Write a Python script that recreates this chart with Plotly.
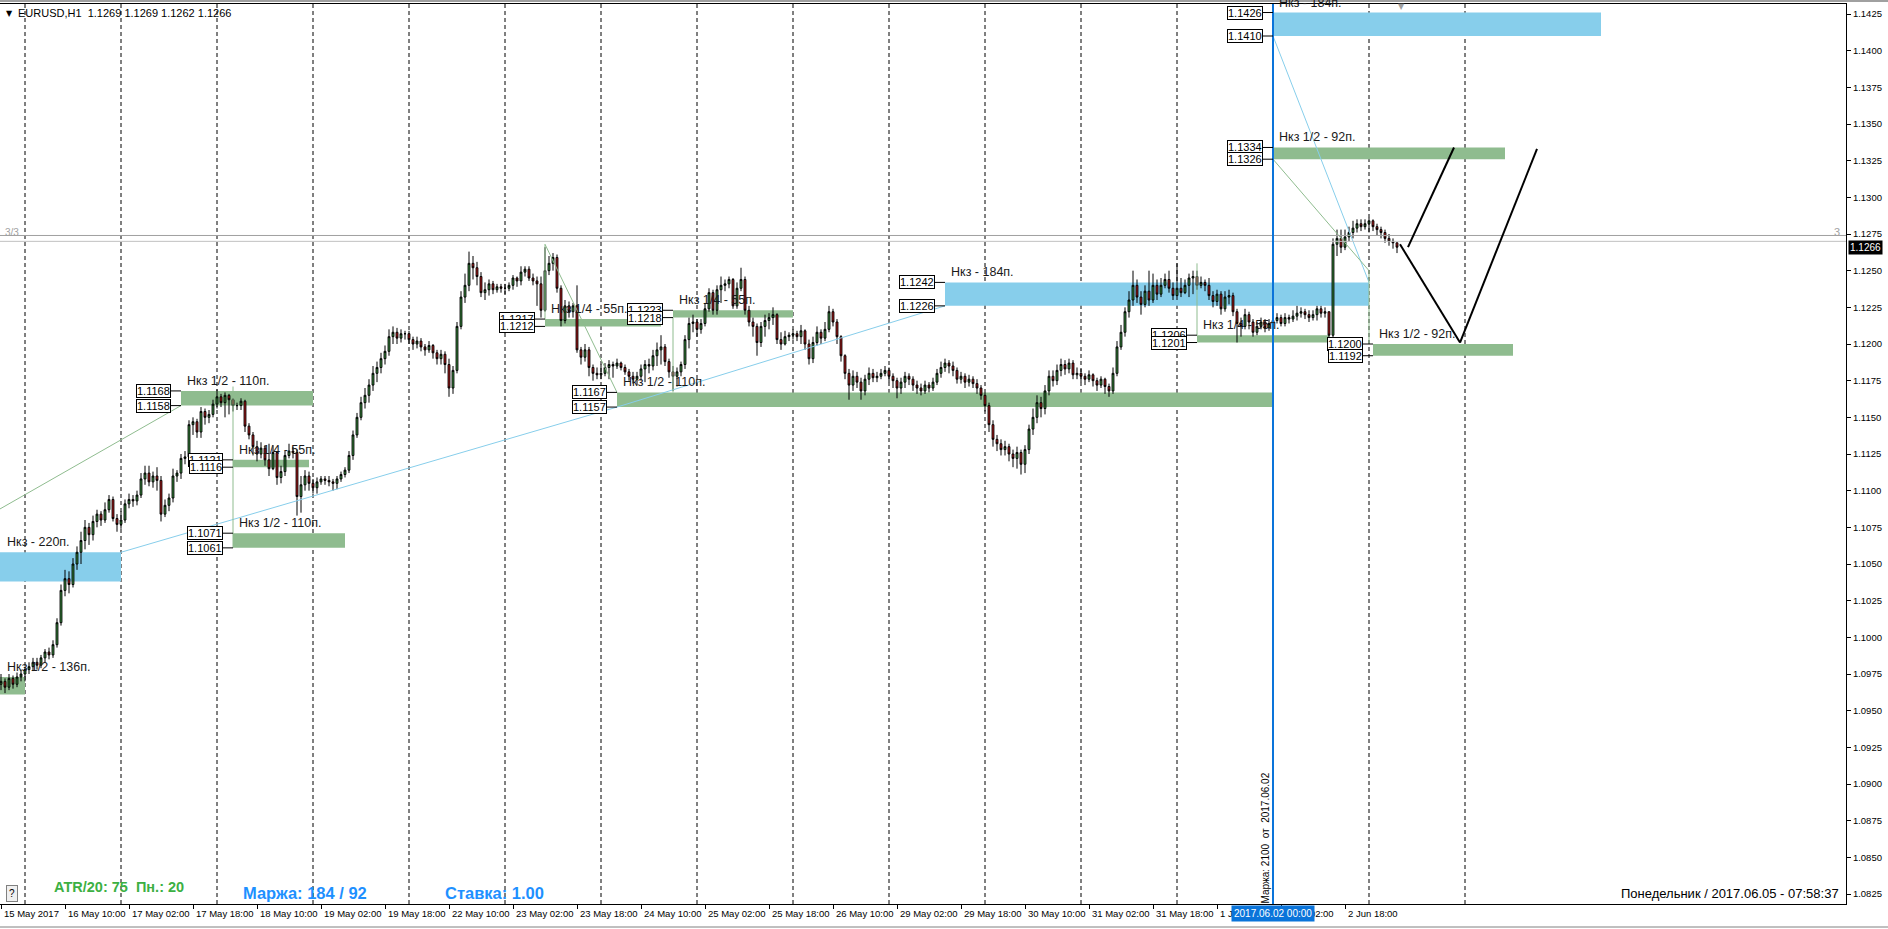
import plotly.graph_objects as go

# ---------------- DATA (EURUSD H1) ----------------
first_open = 1.0968
closes = [
    1.0970, 1.0966, 1.0972, 1.0968, 1.0973, 1.0975,
    1.0978, 1.0980, 1.0983, 1.0981, 1.0986, 1.0990, 1.0988, 1.0995, 1.1010, 1.1032, 1.1040, 1.1036, 1.1050, 1.1058, 1.1066, 1.1075, 1.1070, 1.1079, 1.1084, 1.1080, 1.1087, 1.1094, 1.1081, 1.1077,
    1.1080, 1.1091, 1.1094, 1.1093, 1.1097, 1.1108, 1.1112, 1.1106, 1.1110, 1.1107, 1.1084, 1.1090, 1.1095, 1.1110, 1.1112, 1.1122, 1.1123, 1.1145, 1.1147, 1.1140, 1.1154, 1.1150, 1.1152, 1.1159,
    1.1164, 1.1160, 1.1165, 1.1162, 1.1158, 1.1158, 1.1161, 1.1144, 1.1138, 1.1130, 1.1125, 1.1129, 1.1121, 1.1115, 1.1126, 1.1109, 1.1113, 1.1124, 1.1127, 1.1126, 1.1096, 1.1104, 1.1110, 1.1105,
    1.1102, 1.1106, 1.1108, 1.1107, 1.1106, 1.1105, 1.1108, 1.1111, 1.1114, 1.1124, 1.1138, 1.1150, 1.1160, 1.1165, 1.1172, 1.1180, 1.1184, 1.1190, 1.1195, 1.1205, 1.1208, 1.1204, 1.1207, 1.1207,
    1.1203, 1.1200, 1.1202, 1.1198, 1.1196, 1.1199, 1.1194, 1.1190, 1.1193, 1.1186, 1.1170, 1.1182, 1.1212, 1.1232, 1.1240, 1.1255, 1.1252, 1.1246, 1.1235, 1.1237, 1.1241, 1.1237, 1.1239, 1.1238,
    1.1238, 1.1240, 1.1245, 1.1243, 1.1249, 1.1251, 1.1245, 1.1243, 1.1241, 1.1223, 1.1250, 1.1255, 1.1259, 1.1238, 1.1216, 1.1226, 1.1222, 1.1226, 1.1196, 1.1191, 1.1196, 1.1184, 1.1180, 1.1179,
    1.1180, 1.1184, 1.1186, 1.1185, 1.1187, 1.1184, 1.1181, 1.1178, 1.1176, 1.1178, 1.1183, 1.1186, 1.1185, 1.1192, 1.1196, 1.1198, 1.1188, 1.1181, 1.1178, 1.1181, 1.1186, 1.1203, 1.1214, 1.1215,
    1.1210, 1.1214, 1.1224, 1.1235, 1.1223, 1.1237, 1.1240, 1.1241, 1.1244, 1.1226, 1.1238, 1.1244, 1.1223, 1.1215, 1.1212, 1.1201, 1.1212, 1.1216, 1.1218, 1.1220, 1.1203, 1.1200, 1.1205, 1.1206,
    1.1207, 1.1205, 1.1209, 1.1200, 1.1190, 1.1201, 1.1208, 1.1204, 1.1210, 1.1222, 1.1215, 1.1205, 1.1192, 1.1180, 1.1172, 1.1178, 1.1174, 1.1168, 1.1176, 1.1180, 1.1177, 1.1178, 1.1180, 1.1182,
    1.1178, 1.1175, 1.1170, 1.1174, 1.1178, 1.1176, 1.1172, 1.1170, 1.1168, 1.1172, 1.1170, 1.1174, 1.1180, 1.1184, 1.1187, 1.1185, 1.1182, 1.1176, 1.1178, 1.1174, 1.1176, 1.1173, 1.1170, 1.1165,
    1.1158, 1.1145, 1.1135, 1.1132, 1.1128, 1.1130, 1.1125, 1.1122, 1.1126, 1.1118, 1.1128, 1.1142, 1.1150, 1.1160, 1.1156, 1.1168, 1.1178, 1.1175, 1.1182, 1.1186, 1.1183, 1.1187, 1.1179, 1.1180,
    1.1178, 1.1176, 1.1179, 1.1175, 1.1172, 1.1176, 1.1171, 1.1168, 1.1180, 1.1198, 1.1208, 1.1222, 1.1230, 1.1240, 1.1232, 1.1227, 1.1236, 1.1230, 1.1240, 1.1234, 1.1240, 1.1244, 1.1238, 1.1233,
    1.1238, 1.1235, 1.1240, 1.1245, 1.1246, 1.1240, 1.1242, 1.1240, 1.1233, 1.1229, 1.1234, 1.1224, 1.1232, 1.1233, 1.1222, 1.1214, 1.1212, 1.1220, 1.1215, 1.1208, 1.1212, 1.1215, 1.1211, 1.1214,
    1.1216, 1.1218, 1.1214, 1.1218, 1.1217, 1.1219, 1.1221, 1.1222, 1.1220, 1.1218, 1.1220, 1.1224, 1.1221, 1.1222, 1.1206, 1.1268, 1.1272, 1.1266, 1.1273, 1.1276, 1.1279, 1.1282, 1.1280, 1.1282,
    1.1284, 1.1280, 1.1278, 1.1276, 1.1272, 1.1270, 1.1269, 1.1266,
]
highs = [
    1.0975, 1.0972, 1.0975, 1.0974, 1.0976, 1.0978,
    1.0980, 1.0983, 1.0986, 1.0986, 1.0988, 1.0992, 1.0993, 1.0998, 1.1013, 1.1036, 1.1046, 1.1045, 1.1054, 1.1062, 1.1072, 1.1080, 1.1078, 1.1083, 1.1087, 1.1086, 1.1092, 1.1097, 1.1096, 1.1084,
    1.1086, 1.1094, 1.1098, 1.1097, 1.1100, 1.1112, 1.1117, 1.1117, 1.1113, 1.1116, 1.1110, 1.1094, 1.1098, 1.1115, 1.1114, 1.1125, 1.1127, 1.1148, 1.1150, 1.1149, 1.1157, 1.1156, 1.1155, 1.1162,
    1.1169, 1.1166, 1.1167, 1.1166, 1.1163, 1.1160, 1.1163, 1.1162, 1.1146, 1.1140, 1.1134, 1.1133, 1.1131, 1.1132, 1.1131, 1.1126, 1.1117, 1.1127, 1.1132, 1.1130, 1.1128, 1.1110, 1.1114, 1.1113,
    1.1108, 1.1109, 1.1110, 1.1110, 1.1110, 1.1108, 1.1110, 1.1113, 1.1116, 1.1127, 1.1141, 1.1153, 1.1164, 1.1170, 1.1176, 1.1185, 1.1188, 1.1194, 1.1199, 1.1210, 1.1212, 1.1211, 1.1210, 1.1209,
    1.1209, 1.1205, 1.1205, 1.1204, 1.1200, 1.1202, 1.1200, 1.1196, 1.1196, 1.1195, 1.1190, 1.1185, 1.1215, 1.1236, 1.1248, 1.1263, 1.1260, 1.1256, 1.1249, 1.1242, 1.1244, 1.1243, 1.1241, 1.1241,
    1.1241, 1.1242, 1.1247, 1.1246, 1.1253, 1.1253, 1.1253, 1.1248, 1.1246, 1.1246, 1.1266, 1.1260, 1.1262, 1.1261, 1.1240, 1.1230, 1.1229, 1.1228, 1.1240, 1.1198, 1.1200, 1.1198, 1.1186, 1.1184,
    1.1186, 1.1187, 1.1189, 1.1188, 1.1190, 1.1188, 1.1186, 1.1183, 1.1181, 1.1181, 1.1186, 1.1189, 1.1190, 1.1196, 1.1201, 1.1206, 1.1200, 1.1190, 1.1185, 1.1184, 1.1188, 1.1206, 1.1218, 1.1220,
    1.1217, 1.1217, 1.1228, 1.1238, 1.1237, 1.1240, 1.1246, 1.1244, 1.1246, 1.1245, 1.1242, 1.1252, 1.1246, 1.1226, 1.1218, 1.1214, 1.1215, 1.1220, 1.1221, 1.1225, 1.1221, 1.1208, 1.1209, 1.1208,
    1.1210, 1.1209, 1.1213, 1.1210, 1.1203, 1.1205, 1.1212, 1.1210, 1.1215, 1.1226, 1.1224, 1.1217, 1.1206, 1.1193, 1.1183, 1.1182, 1.1181, 1.1177, 1.1179, 1.1184, 1.1183, 1.1181, 1.1183, 1.1185,
    1.1184, 1.1180, 1.1177, 1.1177, 1.1181, 1.1180, 1.1178, 1.1175, 1.1173, 1.1175, 1.1174, 1.1177, 1.1183, 1.1188, 1.1190, 1.1189, 1.1188, 1.1184, 1.1181, 1.1180, 1.1179, 1.1178, 1.1176, 1.1172,
    1.1167, 1.1160, 1.1148, 1.1138, 1.1135, 1.1134, 1.1132, 1.1128, 1.1130, 1.1128, 1.1131, 1.1145, 1.1156, 1.1165, 1.1164, 1.1172, 1.1182, 1.1182, 1.1186, 1.1190, 1.1189, 1.1190, 1.1189, 1.1184,
    1.1183, 1.1180, 1.1182, 1.1180, 1.1177, 1.1178, 1.1177, 1.1173, 1.1184, 1.1202, 1.1213, 1.1225, 1.1236, 1.1250, 1.1244, 1.1236, 1.1240, 1.1250, 1.1248, 1.1244, 1.1245, 1.1248, 1.1250, 1.1242,
    1.1255, 1.1245, 1.1244, 1.1248, 1.1250, 1.1250, 1.1246, 1.1244, 1.1245, 1.1236, 1.1237, 1.1236, 1.1236, 1.1237, 1.1235, 1.1224, 1.1218, 1.1224, 1.1222, 1.1217, 1.1215, 1.1218, 1.1217, 1.1217,
    1.1219, 1.1221, 1.1220, 1.1221, 1.1220, 1.1223, 1.1226, 1.1225, 1.1224, 1.1223, 1.1223, 1.1226, 1.1226, 1.1225, 1.1222, 1.1272, 1.1278, 1.1278, 1.1278, 1.1280, 1.1284, 1.1285, 1.1285, 1.1285,
    1.1286, 1.1285, 1.1282, 1.1280, 1.1278, 1.1275, 1.1272, 1.1269,
]
lows = [
    1.0964, 1.0962, 1.0964, 1.0965, 1.0966, 1.0970,
    1.0970, 1.0975, 1.0977, 1.0978, 1.0979, 1.0983, 1.0985, 1.0986, 1.0993, 1.1008, 1.1028, 1.1030, 1.1034, 1.1046, 1.1050, 1.1060, 1.1063, 1.1066, 1.1075, 1.1076, 1.1078, 1.1085, 1.1079, 1.1072,
    1.1074, 1.1078, 1.1088, 1.1089, 1.1090, 1.1095, 1.1104, 1.1103, 1.1102, 1.1100, 1.1079, 1.1082, 1.1086, 1.1092, 1.1106, 1.1108, 1.1118, 1.1120, 1.1138, 1.1136, 1.1136, 1.1145, 1.1146, 1.1150,
    1.1156, 1.1157, 1.1150, 1.1152, 1.1154, 1.1155, 1.1155, 1.1140, 1.1135, 1.1124, 1.1120, 1.1122, 1.1117, 1.1110, 1.1114, 1.1104, 1.1105, 1.1110, 1.1122, 1.1122, 1.1083, 1.1085, 1.1100, 1.1100,
    1.1098, 1.1098, 1.1104, 1.1104, 1.1103, 1.1100, 1.1101, 1.1106, 1.1109, 1.1112, 1.1121, 1.1136, 1.1148, 1.1156, 1.1160, 1.1168, 1.1174, 1.1180, 1.1186, 1.1192, 1.1200, 1.1200, 1.1201, 1.1203,
    1.1200, 1.1196, 1.1197, 1.1195, 1.1192, 1.1194, 1.1190, 1.1186, 1.1186, 1.1180, 1.1164, 1.1166, 1.1180, 1.1210, 1.1228, 1.1236, 1.1244, 1.1240, 1.1232, 1.1230, 1.1233, 1.1234, 1.1235, 1.1235,
    1.1234, 1.1236, 1.1237, 1.1239, 1.1240, 1.1246, 1.1243, 1.1240, 1.1226, 1.1218, 1.1222, 1.1247, 1.1250, 1.1235, 1.1212, 1.1214, 1.1218, 1.1218, 1.1194, 1.1186, 1.1188, 1.1178, 1.1175, 1.1176,
    1.1176, 1.1178, 1.1176, 1.1177, 1.1183, 1.1182, 1.1179, 1.1175, 1.1173, 1.1172, 1.1175, 1.1174, 1.1180, 1.1182, 1.1185, 1.1186, 1.1185, 1.1177, 1.1168, 1.1171, 1.1178, 1.1183, 1.1197, 1.1208,
    1.1205, 1.1207, 1.1212, 1.1222, 1.1220, 1.1220, 1.1228, 1.1236, 1.1238, 1.1224, 1.1224, 1.1236, 1.1220, 1.1212, 1.1205, 1.1192, 1.1198, 1.1205, 1.1210, 1.1213, 1.1200, 1.1196, 1.1199, 1.1202,
    1.1203, 1.1202, 1.1200, 1.1196, 1.1186, 1.1187, 1.1199, 1.1200, 1.1202, 1.1208, 1.1212, 1.1200, 1.1188, 1.1176, 1.1162, 1.1168, 1.1170, 1.1162, 1.1165, 1.1172, 1.1174, 1.1174, 1.1176, 1.1178,
    1.1174, 1.1170, 1.1163, 1.1166, 1.1170, 1.1172, 1.1168, 1.1166, 1.1165, 1.1166, 1.1167, 1.1168, 1.1172, 1.1177, 1.1181, 1.1180, 1.1178, 1.1173, 1.1173, 1.1170, 1.1171, 1.1170, 1.1166, 1.1162,
    1.1154, 1.1140, 1.1130, 1.1127, 1.1124, 1.1124, 1.1120, 1.1116, 1.1115, 1.1111, 1.1112, 1.1125, 1.1138, 1.1146, 1.1150, 1.1152, 1.1165, 1.1171, 1.1172, 1.1178, 1.1179, 1.1180, 1.1176, 1.1176,
    1.1174, 1.1172, 1.1174, 1.1171, 1.1168, 1.1170, 1.1166, 1.1164, 1.1166, 1.1178, 1.1196, 1.1205, 1.1218, 1.1226, 1.1228, 1.1220, 1.1225, 1.1226, 1.1228, 1.1230, 1.1232, 1.1238, 1.1235, 1.1230,
    1.1230, 1.1232, 1.1234, 1.1232, 1.1234, 1.1237, 1.1238, 1.1236, 1.1230, 1.1225, 1.1226, 1.1220, 1.1222, 1.1227, 1.1219, 1.1201, 1.1205, 1.1210, 1.1210, 1.1205, 1.1206, 1.1210, 1.1208, 1.1209,
    1.1212, 1.1214, 1.1212, 1.1212, 1.1214, 1.1215, 1.1216, 1.1218, 1.1217, 1.1215, 1.1216, 1.1216, 1.1218, 1.1218, 1.1204, 1.1204, 1.1260, 1.1262, 1.1264, 1.1270, 1.1272, 1.1276, 1.1277, 1.1278,
    1.1276, 1.1277, 1.1274, 1.1272, 1.1269, 1.1267, 1.1265, 1.1262,
]

# time axis labels (bar index -> text)
label_bars = [0, 16, 32, 48, 64, 80, 96, 112, 128, 144, 160, 176, 192, 208, 224, 240, 256, 272, 288, 304, 320, 336]
label_text = ["15 May 2017", "16 May 10:00", "17 May 02:00", "17 May 18:00", "18 May 10:00", "19 May 02:00",
              "19 May 18:00", "22 May 10:00", "23 May 02:00", "23 May 18:00", "24 May 10:00", "25 May 02:00",
              "25 May 18:00", "26 May 10:00", "29 May 02:00", "29 May 18:00", "30 May 10:00", "31 May 02:00",
              "31 May 18:00", "1 Jun 10:00", "2 Jun 02:00", "2 Jun 18:00"]
day_start_bars = [6, 30, 54, 78, 102, 126, 150, 174, 198, 222, 246, 270, 294, 318, 342, 366]

price_ticks = [1.0825, 1.0850, 1.0875, 1.0900, 1.0925, 1.0950, 1.0975, 1.1000, 1.1025, 1.1050, 1.1075, 1.1100,
               1.1125, 1.1150, 1.1175, 1.1200, 1.1225, 1.1250, 1.1275, 1.1300, 1.1325, 1.1350, 1.1375, 1.1400, 1.1425]

# zones (Нкз)
zone_top    = [1.1426, 1.1334, 1.1200, 1.1206, 1.1242, 1.1167, 1.1223, 1.1217, 1.1168, 1.1121, 1.1071, 1.1058, 1.0973]
zone_bottom = [1.1410, 1.1326, 1.1192, 1.1201, 1.1226, 1.1157, 1.1218, 1.1212, 1.1158, 1.1116, 1.1061, 1.1038, 1.0961]
zone_start  = [318, 318, 343, 299, 236, 154, 168, 136, 45, 58, 58, -30, -30]
zone_end    = [400, 376, 378, 332, 342, 318, 198, 165, 78, 77, 86, 30, 6]
zone_kind   = ["b", "g", "g", "g", "b", "g", "g", "g", "g", "g", "g", "b", "g"]
zone_caption = ["Нкз - 184п.", "Нкз 1/2 - 92п.", "Нкз 1/2 - 92п.", "Нкз 1/4 - 55п.", "Нкз - 184п.",
                "Нкз 1/2 - 110п.", "Нкз 1/4 - 55п.", "Нкз 1/4 - 55п.", "Нкз 1/2 - 110п.", "Нкз 1/4 - 55п.",
                "Нкз 1/2 - 110п.", "Нкз - 220п.", "Нкз 1/2 - 136п."]

# thin trend lines
trend_x0 = [30, 154, 318, -25, 58, 136, 136, 168, 318, 342, 299]
trend_y0 = [1.1058, 1.1157, 1.1410, 1.1049, 1.1171, 1.1268, 1.1268, 1.1218, 1.1326, 1.1250, 1.1255]
trend_x1 = [154, 236, 342, 45, 58, 154, 136, 168, 342, 342, 299]
trend_y1 = [1.1157, 1.1226, 1.1242, 1.1158, 1.1061, 1.1167, 1.1217, 1.1167, 1.1250, 1.1200, 1.1206]
trend_kind = ["b", "b", "b", "g", "g", "g", "g", "g", "g", "g", "g"]

# forecast zig-zag drawn on the chart
proj_a_x = [351.75, 363.25]
proj_a_y = [1.1266, 1.1334]
proj_b_x = [349.75, 364.75, 384.0]
proj_b_y = [1.1268, 1.1201, 1.1333]

vline_bar = 318            # 2017.06.02 00:00
hline_levels = [1.1274, 1.1270]

# ---------------- STYLE ----------------
FONT = "Liberation Sans"
BLUE_Z = "#87CEEB"
GREEN_Z = "#8FBC8F"
BULL = "#3CB043"
BEAR = "#E01010"
VBLUE = "#0A74DA"

W, H = 1888, 929
PLOT_L, PLOT_R, PLOT_T, PLOT_B = 0, 1846, 4, 904
X_RANGE = [-0.25, 461.25]
Y_RANGE = [1.0818182, 1.1431818]


def pxx(x):
    return (x - PLOT_L) / (PLOT_R - PLOT_L)


def pxy(y):
    return (PLOT_B - y) / (PLOT_B - PLOT_T)


n = min(len(closes), len(highs), len(lows))
closes, highs, lows = closes[:n], highs[:n], lows[:n]
opens = [first_open] + closes[:-1]
bars = list(range(n))

fig = go.Figure()
fig.add_trace(go.Candlestick(
    x=bars, open=opens, high=highs, low=lows, close=closes,
    increasing=dict(fillcolor=BULL, line=dict(color="black", width=1)),
    decreasing=dict(fillcolor=BEAR, line=dict(color="black", width=1)),
    whiskerwidth=0, hoverinfo="skip", showlegend=False,
))

shapes = []
annotations = []

# zones
for t, b, s, e, k in zip(zone_top, zone_bottom, zone_start, zone_end, zone_kind):
    shapes.append(dict(type="rect", xref="x", yref="y", x0=s, x1=e, y0=b, y1=t,
                       fillcolor=BLUE_Z if k == "b" else GREEN_Z, line=dict(width=0), layer="below"))

# period separators
for d in day_start_bars:
    shapes.append(dict(type="line", xref="x", yref="paper", x0=d, x1=d, y0=0, y1=1,
                       line=dict(color="black", width=1, dash="4px,3px"), layer="below"))

# thin trend lines
for x0, y0, x1, y1, k in zip(trend_x0, trend_y0, trend_x1, trend_y1, trend_kind):
    shapes.append(dict(type="line", xref="x", yref="y", x0=x0, y0=y0, x1=x1, y1=y1,
                       line=dict(color=BLUE_Z if k == "b" else GREEN_Z, width=1), layer="above"))

# gray horizontal lines
for lv, c in zip(hline_levels, ["#A0A0A0", "#C0C0C0"]):
    shapes.append(dict(type="line", xref="paper", yref="y", x0=0, x1=1, y0=lv, y1=lv,
                       line=dict(color=c, width=1), layer="above"))

# blue vertical line
shapes.append(dict(type="line", xref="x", yref="paper", x0=vline_bar, x1=vline_bar, y0=0, y1=1,
                   line=dict(color=VBLUE, width=2), layer="above"))

# zig-zag forecast
for xs, ys in [(proj_a_x, proj_a_y), (proj_b_x, proj_b_y)]:
    for i in range(len(xs) - 1):
        shapes.append(dict(type="line", xref="x", yref="y", x0=xs[i], y0=ys[i], x1=xs[i + 1], y1=ys[i + 1],
                           line=dict(color="black", width=2), layer="above"))

# zone price boxes + connectors + captions
clip_x, clip_y, clip_t = [], [], []
for t, b, s, cap in zip(zone_top, zone_bottom, zone_start, zone_caption):
    if s >= 0:
        for v in (t, b):
            shapes.append(dict(type="line", xref="x", yref="y", x0=s - 2.5, x1=s, y0=v, y1=v,
                               line=dict(color="black", width=1), layer="above"))
            annotations.append(dict(x=s - 2.5, y=v, xref="x", yref="y", text=f"{v:.4f}", showarrow=False,
                                    xanchor="right", yanchor="middle", bgcolor="white", bordercolor="black",
                                    borderwidth=1, borderpad=0, font=dict(family=FONT, size=11, color="black")))
    if t > Y_RANGE[1] - 0.0005:
        # caption that runs into the top edge of the chart: drawn clipped by the plot area
        clip_x.append(max(s, 0) + 0.5)
        clip_y.append(t + 0.0004)
        clip_t.append(cap)
        continue
    annotations.append(dict(x=max(s, 0) + 1, y=t, xref="x", yref="y", text=cap, showarrow=False,
                            xanchor="left", yanchor="bottom", yshift=1,
                            font=dict(family=FONT, size=12.5, color="#1A1A1A")))

fig.add_trace(go.Scatter(x=clip_x, y=clip_y, text=clip_t, mode="text", textposition="top right",
                         textfont=dict(family=FONT, size=12.5, color="#1A1A1A"), cliponaxis=True,
                         hoverinfo="skip", showlegend=False))

# time axis labels
for bi, txt in zip(label_bars, label_text):
    annotations.append(dict(x=bi, y=pxy(913), xref="x", yref="paper", text=txt, showarrow=False,
                            xanchor="left", yanchor="middle", xshift=1,
                            font=dict(family=FONT, size=9.5, color="black")))
# highlighted time of blue line
annotations.append(dict(x=vline_bar, y=pxy(913), xref="x", yref="paper", text="2017.06.02 00:00", showarrow=False,
                        xanchor="center", yanchor="middle", bgcolor=VBLUE, borderpad=2,
                        font=dict(family=FONT, size=10, color="white")))

# header
annotations.append(dict(x=pxx(4), y=pxy(13), xref="paper", yref="paper", text="▼", showarrow=False,
                        xanchor="left", yanchor="middle", font=dict(family="DejaVu Sans", size=8, color="black")))
hdr = "EURUSD,H1\u00a0\u00a0{:.4f} {:.4f} {:.4f} {:.4f}".format(opens[-1], highs[-1], lows[-1], closes[-1])
annotations.append(dict(x=pxx(16), y=pxy(13), xref="paper", yref="paper", text=hdr, showarrow=False,
                        xanchor="left", yanchor="middle", font=dict(family=FONT, size=11, color="black")))

# current price box on the axis
annotations.append(dict(x=1, y=closes[-1], xref="paper", yref="y", text=f"{closes[-1]:.4f}", showarrow=False,
                        xanchor="left", yanchor="middle", xshift=2, bgcolor="black", borderpad=1,
                        font=dict(family=FONT, size=10, color="white")))

# "3/3" marks
annotations.append(dict(x=pxx(3), y=hline_levels[0], xref="paper", yref="y", text="3/3", showarrow=False,
                        xanchor="left", yanchor="middle", yshift=3, font=dict(family=FONT, size=10, color="#A0A0A0")))
annotations.append(dict(x=pxx(1842), y=hline_levels[0], xref="paper", yref="y", text="3", showarrow=False,
                        xanchor="right", yanchor="middle", yshift=3, font=dict(family=FONT, size=11, color="#A0A0A0")))

# rotated note near blue line
annotations.append(dict(x=vline_bar, y=pxy(838), xref="x", yref="paper", text="Маржа: 2100\u00a0\u00a0от\u00a0\u00a02017.06.02",
                        showarrow=False, textangle=-90, xanchor="right", yanchor="middle", xshift=-1,
                        font=dict(family=FONT, size=10, color="black")))

# bottom info texts
annotations.append(dict(x=pxx(52), y=pxy(887), xref="paper", yref="paper", text="<b>ATR/20: 75\u00a0\u00a0Пн.: 20</b>",
                        showarrow=False, xanchor="left", yanchor="middle",
                        font=dict(family=FONT, size=14.5, color="#3CB043")))
annotations.append(dict(x=pxx(241), y=pxy(893), xref="paper", yref="paper", text="<b>Маржа: 184 / 92</b>",
                        showarrow=False, xanchor="left", yanchor="middle",
                        font=dict(family=FONT, size=16.5, color="#1E90FF")))
annotations.append(dict(x=pxx(443), y=pxy(893), xref="paper", yref="paper", text="<b>Ставка: 1.00</b>",
                        showarrow=False, xanchor="left", yanchor="middle",
                        font=dict(family=FONT, size=16.5, color="#1E90FF")))
annotations.append(dict(x=pxx(1841), y=pxy(893), xref="paper", yref="paper",
                        text="Понедельник / 2017.06.05 - 07:58:37", showarrow=False, xanchor="right",
                        yanchor="middle", font=dict(family=FONT, size=13, color="black")))
annotations.append(dict(x=pxx(12), y=pxy(893), xref="paper", yref="paper", text="?", showarrow=False,
                        xanchor="center", yanchor="middle", bgcolor="#F0F0F0", bordercolor="#808080",
                        borderwidth=1, borderpad=2, font=dict(family=FONT, size=10, color="black")))
# small gray marker at top
annotations.append(dict(x=pxx(1401), y=pxy(6), xref="paper", yref="paper", text="▼", showarrow=False,
                        xanchor="center", yanchor="middle", font=dict(family="DejaVu Sans", size=8, color="#A0A0A0")))

# window borders
shapes.append(dict(type="rect", xref="paper", yref="paper", x0=0, x1=W / PLOT_R, y0=pxy(2), y1=pxy(0),
                   fillcolor="#A0A0A0", line=dict(width=0), layer="above"))
shapes.append(dict(type="line", xref="paper", yref="paper", x0=0, x1=W / PLOT_R, y0=pxy(927), y1=pxy(927),
                   line=dict(color="#808080", width=1), layer="above"))

fig.update_layout(
    width=W, height=H,
    margin=dict(l=PLOT_L, r=W - PLOT_R, t=PLOT_T, b=H - PLOT_B),
    paper_bgcolor="white", plot_bgcolor="white",
    showlegend=False, boxgap=0.35, hovermode=False,
    shapes=shapes, annotations=annotations,
    xaxis=dict(range=X_RANGE, showgrid=False, zeroline=False, showline=True, mirror=True,
               linecolor="black", linewidth=1, rangeslider=dict(visible=False),
               tickvals=label_bars, ticktext=[""] * len(label_bars), ticks="outside", ticklen=4,
               tickcolor="black", showticklabels=False, fixedrange=True),
    yaxis=dict(range=Y_RANGE, side="right", showgrid=False, zeroline=False, showline=True, mirror=True,
               linecolor="black", linewidth=1, tickvals=price_ticks,
               ticktext=[f"{v:.4f}" for v in price_ticks], ticks="outside", ticklen=4, tickcolor="black",
               tickfont=dict(family=FONT, size=9.5, color="black"), fixedrange=True),
)

fig.write_html("out.html", config={"displayModeBar": False},
               post_script="document.body.style.margin='0';document.body.style.overflow='hidden';")
